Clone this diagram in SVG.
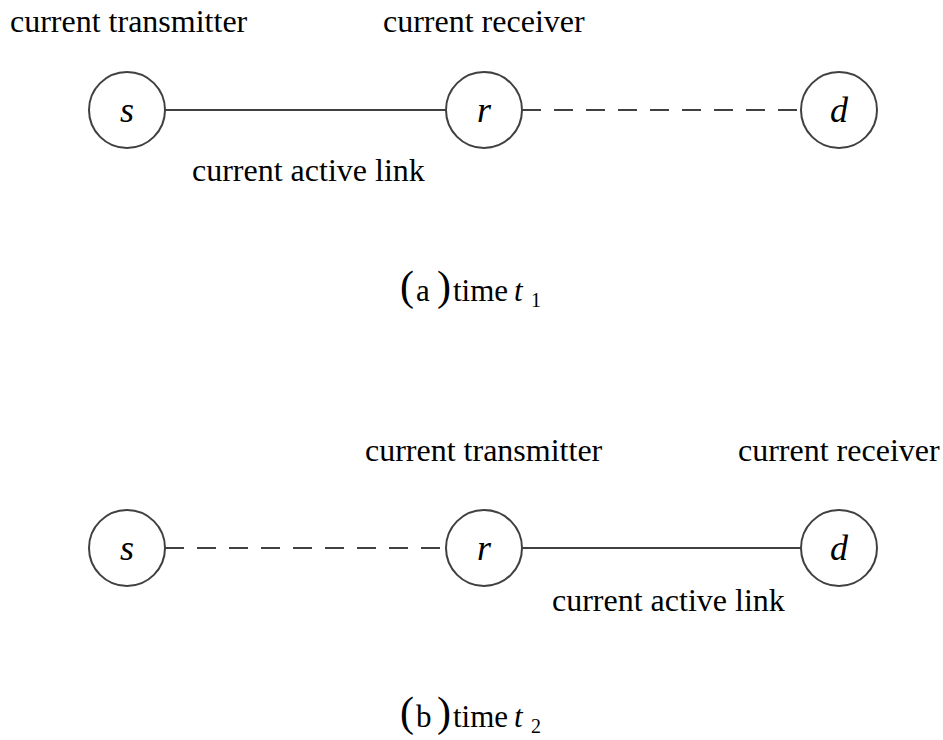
<svg xmlns="http://www.w3.org/2000/svg" width="943" height="740" viewBox="0 0 943 740">
<style>
text{font-family:"Liberation Serif","Times New Roman",serif;fill:#000}
.lbl{font-size:32px}
.nd circle{fill:#fff;stroke:#404040;stroke-width:2}
.nd text{font-size:36px;font-style:italic;text-anchor:middle}
.solid{stroke:#404040;stroke-width:2;fill:none}
.dash{stroke:#404040;stroke-width:2;fill:none;stroke-dasharray:19 13}
.cap{font-size:31px}
.par{font-size:42px}
.sub{font-size:20px}
</style>
<rect width="943" height="740" fill="#fff"/>
<g id="connectors">
<line class="solid" x1="165" y1="110" x2="446" y2="110"/>
<line class="dash" x1="522" y1="110" x2="801" y2="110"/>
<line class="dash" x1="165" y1="548" x2="446" y2="548"/>
<line class="solid" x1="522" y1="548" x2="801" y2="548"/>
</g>
<g id="a-s" class="nd"><circle cx="127" cy="110" r="38"/><text x="127" y="122">s</text></g>
<g id="a-r" class="nd"><circle cx="484" cy="110" r="38"/><text x="484" y="122">r</text></g>
<g id="a-d" class="nd"><circle cx="839" cy="110" r="38"/><text x="839" y="122">d</text></g>
<g id="b-s" class="nd"><circle cx="127" cy="548" r="38"/><text x="127" y="560">s</text></g>
<g id="b-r" class="nd"><circle cx="484" cy="548" r="38"/><text x="484" y="560">r</text></g>
<g id="b-d" class="nd"><circle cx="839" cy="548" r="38"/><text x="839" y="560">d</text></g>
<g id="labels">
<text class="lbl" x="10" y="32">current transmitter</text>
<text class="lbl" x="383" y="32">current receiver</text>
<text class="lbl" x="192" y="181">current active link</text>
<text class="lbl" x="365" y="461">current transmitter</text>
<text class="lbl" x="738" y="461">current receiver</text>
<text class="lbl" x="552" y="611">current active link</text>
</g>
<g id="caption-a">
<text class="par" x="400" y="300">(</text>
<text class="cap" x="416" y="301">a</text>
<text class="par" x="437" y="300">)</text>
<text class="cap" x="453" y="301">time</text>
<text class="cap" x="514" y="301" font-style="italic">t</text>
<text class="sub" x="531" y="307">1</text>
</g>
<g id="caption-b">
<text class="par" x="400" y="726">(</text>
<text class="cap" x="416" y="727">b</text>
<text class="par" x="437" y="726">)</text>
<text class="cap" x="453" y="727">time</text>
<text class="cap" x="514" y="727" font-style="italic">t</text>
<text class="sub" x="531" y="733">2</text>
</g>
</svg>
